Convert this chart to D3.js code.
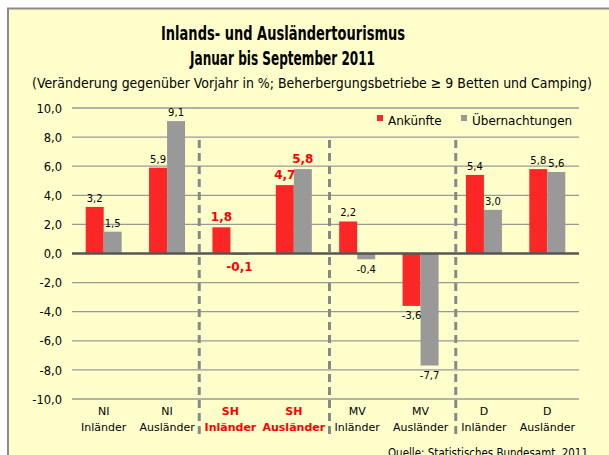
<!DOCTYPE html>
<html>
<head>
<meta charset="utf-8">
<script src="https://cdn.jsdelivr.net/npm/d3@7"></script>
<style>
  body { margin: 0; background: #fff; }
  svg { display: block; }
</style>
</head>
<body>
<div id="app"></div>
<script>
// data
const regions = ["NI", "NI", "SH", "SH", "MV", "MV", "D", "D"];
const groups = ["Inländer", "Ausländer", "Inländer", "Ausländer", "Inländer", "Ausländer", "Inländer", "Ausländer"];
const ankuenfte = [3.2, 5.9, 1.8, 4.7, 2.2, -3.6, 5.4, 5.8];
const uebernachtungen = [1.5, 9.1, -0.1, 5.8, -0.4, -7.7, 3.0, 5.6];
const seriesNames = ["Ankünfte", "Übernachtungen"];
const yTicks = [-10, -8, -6, -4, -2, 0, 2, 4, 6, 8, 10];
const highlightRegion = "SH";
const separatorsAfter = [1, 3, 5];

const w = 609, h = 455;
const colors = ["#fb2626", "#999999"];
const fmt = v => d3.format(".1f")(v).replace(".", ",").replace("−", "-");

const svg = d3.select("#app").append("svg")
  .attr("width", w).attr("height", h);

// panel
svg.append("rect").attr("x", 8).attr("y", 8).attr("width", w).attr("height", h)
  .attr("fill", "#ffffcc");
svg.append("path").attr("d", "M8," + h + "V8.5H" + w)
  .attr("fill", "none").attr("stroke", "#8a8a8a").attr("stroke-width", 2);

// titles
const condensed = "'Liberation Sans Narrow', 'DejaVu Sans Condensed', sans-serif";
svg.append("text").attr("x", 161).attr("y", 40)
  .attr("textLength", 244).attr("lengthAdjust", "spacingAndGlyphs")
  .style("font-family", condensed).style("font-weight", "bold").style("font-size", "20px")
  .text("Inlands- und Ausländertourismus");
svg.append("text").attr("x", 190).attr("y", 65)
  .attr("textLength", 185).attr("lengthAdjust", "spacingAndGlyphs")
  .style("font-family", condensed).style("font-weight", "bold").style("font-size", "20px")
  .text("Januar bis September 2011");
svg.append("text").attr("x", 32).attr("y", 88)
  .attr("textLength", 560).attr("lengthAdjust", "spacingAndGlyphs")
  .style("font-family", condensed).style("font-size", "14px")
  .text("(Veränderung gegenüber Vorjahr in %; Beherbergungsbetriebe ≥ 9 Betten und Camping)");

const x = d3.scaleBand().domain(d3.range(regions.length)).range([72, 579]).paddingInner(0).paddingOuter(0);
const inner = d3.scaleBand().domain([0, 1]).range([0, 36]);
const barOffset = (x.bandwidth() - 36) / 2;
const y = d3.scaleLinear().domain([-10, 10]).range([399, 108]);

// gridlines
svg.append("g").selectAll("line").data(yTicks.filter(t => t !== 0)).join("line")
  .attr("x1", 72).attr("x2", 579)
  .attr("y1", d => y(d)).attr("y2", d => y(d))
  .attr("stroke", "#999").attr("stroke-width", 1.3);

// y axis labels
const yAxis = d3.axisLeft(y).tickValues(yTicks).tickSize(0).tickPadding(0).tickFormat(fmt);
svg.append("g").attr("transform", "translate(62,0)").call(yAxis)
  .call(g => g.select(".domain").remove())
  .selectAll("text")
  .style("font-family", "'DejaVu Sans', sans-serif").style("font-size", "11.5px")
  .attr("fill", "#000").attr("dy", "0.36em");

// separators
const sepShift = [0.5, 4, 3.5];
svg.append("g").selectAll("line").data(separatorsAfter).join("line")
  .attr("x1", (d, i) => x(d + 1) + sepShift[i]).attr("x2", (d, i) => x(d + 1) + sepShift[i])
  .attr("y1", 140).attr("y2", 436)
  .attr("stroke", "#888").attr("stroke-width", 3).attr("stroke-dasharray", "8,5");

// bars
const rows = regions.map((r, i) => ({ i, region: r, vals: [ankuenfte[i], uebernachtungen[i]] }));
const grp = svg.append("g").selectAll("g").data(rows).join("g")
  .attr("transform", d => "translate(" + (x(d.i) + barOffset) + ",0)");

grp.selectAll("rect").data(d => d.vals.map((v, k) => ({ v, k, region: d.region }))).join("rect")
  .attr("x", d => inner(d.k))
  .attr("width", inner.bandwidth())
  .attr("y", d => y(Math.max(0, d.v)))
  .attr("height", d => Math.abs(y(d.v) - y(0)))
  .attr("fill", d => colors[d.k]);

grp.selectAll("text").data(d => d.vals.map((v, k) => ({ v, k, region: d.region }))).join("text")
  .attr("x", d => inner(d.k) + inner.bandwidth() / 2)
  .attr("y", d => {
    const hl = d.region === highlightRegion;
    return d.v >= 0 ? y(d.v) - (hl ? 6.5 : 5) : y(d.v) + (hl ? 16 : 13.5);
  })
  .attr("text-anchor", "middle")
  .style("font-family", "'DejaVu Sans', sans-serif")
  .style("font-size", d => d.region === highlightRegion ? "12px" : "10px")
  .style("font-weight", d => d.region === highlightRegion ? "bold" : "normal")
  .attr("fill", d => d.region === highlightRegion ? "#ff0000" : "#000")
  .text(d => fmt(d.v));

// zero line
svg.append("line").attr("x1", 72).attr("x2", 579).attr("y1", y(0)).attr("y2", y(0))
  .attr("stroke", "#555").attr("stroke-width", 2.5);

// category labels
const cat = svg.append("g").selectAll("text").data(rows).join("text")
  .attr("text-anchor", "middle")
  .style("font-family", "'DejaVu Sans', sans-serif").style("font-size", "11px")
  .style("font-weight", d => d.region === highlightRegion ? "bold" : "normal")
  .attr("fill", d => d.region === highlightRegion ? "#ff0000" : "#000");
cat.append("tspan").attr("x", d => x(d.i) + x.bandwidth() / 2).attr("y", 415).text(d => d.region);
cat.append("tspan").attr("x", d => x(d.i) + x.bandwidth() / 2).attr("y", 431).text(d => groups[d.i]);

// legend
const legX = [377, 461];
const leg = svg.append("g").selectAll("g").data(seriesNames).join("g")
  .attr("transform", (d, i) => "translate(" + legX[i] + ",115)");
leg.append("rect").attr("width", 6).attr("height", 6).attr("fill", (d, i) => colors[i]);
leg.append("text").attr("x", 11).attr("y", 10)
  .style("font-family", "'DejaVu Sans', sans-serif").style("font-size", "12px")
  .text(d => d);

// source
svg.append("text").attr("x", 388).attr("y", 457)
  .attr("textLength", 200).attr("lengthAdjust", "spacingAndGlyphs")
  .style("font-family", condensed).style("font-size", "12.5px")
  .text("Quelle: Statistisches Bundesamt, 2011");
</script>
</body>
</html>
